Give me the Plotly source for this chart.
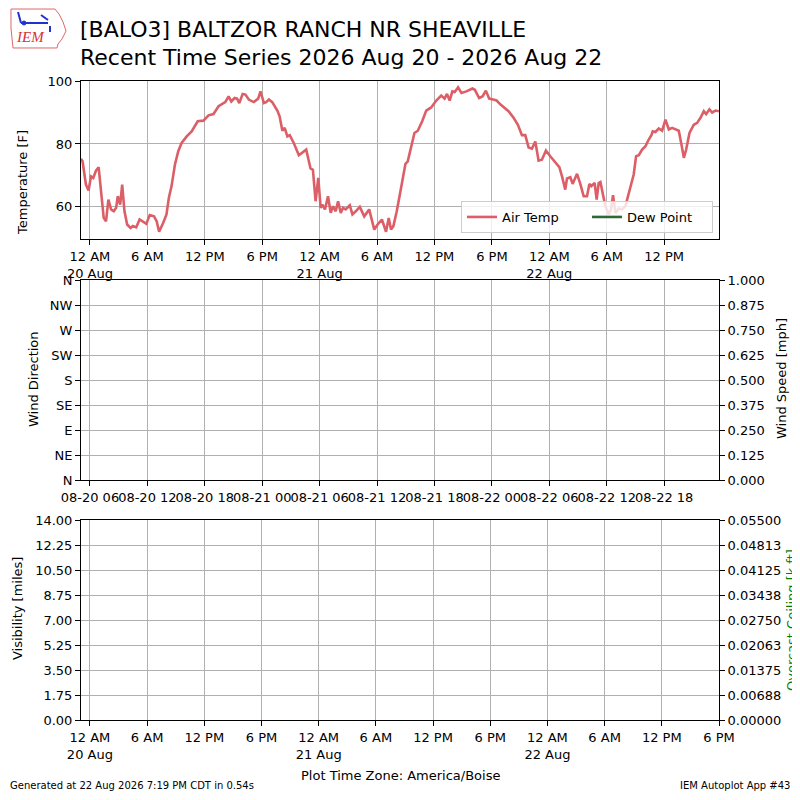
import pandas as pd
import plotly.graph_objects as go

title_1 = "[BALO3] BALTZOR RANCH NR SHEAVILLE"
title_2 = "Recent Time Series 2026 Aug 20 - 2026 Aug 22"

# observation times, hours after 2026-08-20 00:00 (America/Boise)
obs_hours = [
    -0.95, -0.77, -0.42, -0.14, 0.11, 0.35, 0.63, 0.91, 1.44, 1.68, 1.93, 2.21,
    2.49, 2.74, 2.91, 3.16, 3.37, 3.61, 3.89, 4.25, 4.49, 4.84, 5.19, 5.54,
    5.89, 6.25, 6.70, 6.98, 7.23, 7.65, 8.00, 8.25, 8.53, 8.88, 9.23, 9.58,
    10.11, 10.63, 11.26, 11.86, 12.39, 12.91, 13.44, 14.14, 14.49, 14.77, 15.12, 15.37,
    15.61, 15.96, 16.25, 16.60, 17.12, 17.58, 17.82, 18.18, 18.42, 18.70, 19.05, 19.58,
    19.82, 20.11, 20.35, 20.63, 20.88, 21.30, 21.83, 22.60, 23.05, 23.30, 23.58, 23.86,
    24.11, 24.28, 24.56, 24.88, 25.16, 25.40, 25.68, 25.93, 26.21, 26.45, 26.73, 27.15,
    27.43, 27.78, 28.20, 28.66, 29.18, 29.71, 30.06, 30.51, 30.94, 31.22, 31.46, 31.71,
    32.06, 32.51, 32.97, 33.21, 33.56, 33.91, 34.26, 34.72, 35.14, 35.66, 36.19, 36.71,
    37.06, 37.31, 37.59, 37.87, 38.12, 38.47, 38.82, 39.34, 39.97, 40.22, 40.67, 41.02,
    41.37, 41.72, 42.14, 42.49, 42.91, 43.37, 43.74, 44.27, 44.72, 45.14, 45.49, 45.84,
    46.19, 46.54, 46.88, 47.23, 47.65, 48.10, 48.63, 49.05, 49.33, 49.67, 49.85, 50.20,
    50.44, 50.90, 51.24, 51.59, 51.94, 52.19, 52.39, 52.74, 52.95, 53.16, 53.34, 53.58,
    53.86, 54.21, 54.45, 54.66, 54.91, 55.26, 55.60, 55.95, 56.48, 56.82, 57.07, 57.35,
    57.70, 58.05, 58.39, 58.67, 58.81, 59.09, 59.44, 59.79, 60.14, 60.49, 60.84, 61.18,
    61.53, 61.81, 62.06, 62.30, 62.65, 63.10, 63.45, 63.80, 64.15, 64.39, 64.74, 65.02,
    65.37, 65.72,
]
air_temp = [
    75.3, 74.5, 67.1, 65.2, 69.7, 69.2, 71.5, 72.6, 56.5, 55.4, 62.3, 59.2,
    58.6, 59.7, 63.4, 60.7, 67.1, 58.6, 54.4, 53.3, 53.9, 53.5, 56.0, 55.2,
    54.6, 57.4, 57.0, 55.4, 52.1, 54.9, 57.6, 62.9, 66.6, 73.4, 77.7, 80.3,
    82.4, 84.0, 87.2, 87.4, 89.1, 89.5, 92.0, 93.3, 95.1, 93.5, 94.6, 94.4,
    93.0, 95.9, 95.7, 94.1, 93.3, 94.4, 96.7, 93.0, 93.3, 94.1, 93.3, 90.6,
    88.8, 84.2, 85.1, 82.4, 82.8, 80.3, 76.4, 78.2, 72.2, 71.8, 61.8, 69.2,
    59.7, 60.7, 59.2, 63.4, 58.1, 60.2, 58.6, 61.8, 58.1, 59.7, 59.2, 60.5,
    57.6, 58.6, 60.0, 57.0, 59.2, 52.8, 54.4, 56.0, 52.1, 56.5, 52.8, 53.9,
    58.6, 66.0, 73.7, 74.5, 79.3, 83.5, 84.2, 87.2, 90.6, 91.6, 93.8, 95.4,
    94.4, 95.9, 93.8, 96.7, 96.5, 98.0, 96.2, 96.7, 97.6, 97.2, 94.6, 95.1,
    96.9, 94.4, 94.1, 93.8, 92.5, 91.4, 90.4, 88.3, 86.1, 82.8, 82.8, 78.9,
    78.5, 80.8, 74.7, 75.0, 77.9, 76.1, 74.0, 72.6, 69.7, 65.5, 69.0, 69.4,
    67.3, 70.5, 67.3, 63.4, 63.4, 67.3, 66.6, 67.6, 62.3, 67.6, 67.9, 64.4,
    60.2, 57.6, 59.2, 63.7, 58.1, 59.5, 59.2, 60.2, 66.0, 70.3, 76.1, 76.4,
    78.2, 79.3, 81.4, 82.8, 84.0, 83.8, 84.9, 84.2, 87.7, 84.6, 85.1, 84.6,
    84.2, 79.8, 75.6, 78.2, 83.5, 86.1, 86.7, 88.3, 90.4, 89.5, 91.0, 90.0,
    90.6, 90.4,
]

temp_ticks = [60, 80, 100]
dir_ticks = [0, 45, 90, 135, 180, 225, 270, 315, 360]
dir_labels = ["N", "NE", "E", "SE", "S", "SW", "W", "NW", "N"]
speed_ticks = [0, 0.125, 0.25, 0.375, 0.5, 0.625, 0.75, 0.875, 1.0]
vis_ticks = [0, 1.75, 3.5, 5.25, 7.0, 8.75, 10.5, 12.25, 14.0]
ceil_ticks = [0, 0.006875, 0.01375, 0.020625, 0.0275, 0.034375, 0.04125, 0.048125, 0.055]
ceil_labels = ["0.00000", "0.00688", "0.01375", "0.02063", "0.02750",
               "0.03438", "0.04125", "0.04813", "0.05500"]

base = pd.Timestamp("2026-08-20 00:00")
valid = base + pd.to_timedelta(obs_hours, unit="h")

t_start = pd.Timestamp("2026-08-19 23:04")
t_end_top = pd.Timestamp("2026-08-22 17:44")
t_end_bot = pd.Timestamp("2026-08-22 18:00")
utc_off = pd.Timedelta(hours=6)

local_ticks = pd.date_range("2026-08-20 00:00", "2026-08-22 18:00", freq="6h")
local_text = []
for t in local_ticks:
    lbl = t.strftime("%I %p").lstrip("0")
    if t.hour == 0:
        lbl += "<br>" + t.strftime("%d Aug").lstrip("0")
    local_text.append(lbl)
utc_ticks = local_ticks + utc_off
utc_text = [t.strftime("%m-%d %H") for t in utc_ticks]

# the page body keeps its 8px margin, so the figure is 784px and sits at (8, 8)
PAGE_MARGIN = 8
W = H = 800 - 2 * PAGE_MARGIN
FONT = "DejaVu Sans"


def px(x):
    return (x - PAGE_MARGIN) / W


def py(y):
    return 1 - (y - PAGE_MARGIN) / H


GRID = "#b0b0b0"
common = dict(showline=True, linecolor="black", linewidth=1, mirror=True,
              ticks="outside", ticklen=5, tickcolor="black", tickwidth=1,
              showgrid=True, gridcolor=GRID, gridwidth=1, zeroline=False,
              automargin=False,
              tickfont=dict(size=13, color="black", family=FONT))

fig = go.Figure()
fig.add_trace(go.Scatter(x=valid, y=air_temp, mode="lines", name="Air Temp",
                         line=dict(color="#dc5f68", width=2.6), xaxis="x", yaxis="y"))
fig.add_trace(go.Scatter(x=[None], y=[None], mode="lines", name="Dew Point",
                         line=dict(color="#2f6a34", width=2.6), xaxis="x", yaxis="y"))
# empty panels (no wind / visibility / ceiling reports)
for xa, ya in [("x2", "y2"), ("x2", "y3"), ("x3", "y4"), ("x3", "y5")]:
    fig.add_trace(go.Scatter(x=[None], y=[None], mode="lines", showlegend=False,
                             xaxis=xa, yaxis=ya, hoverinfo="skip"))

xdom = [px(81), px(719)]
fig.update_layout(
    template="none",
    width=W, height=H, autosize=False,
    margin=dict(l=0, r=0, t=0, b=0, pad=0, autoexpand=False),
    paper_bgcolor="white", plot_bgcolor="white",
    font=dict(family=FONT, size=13, color="black"),
    xaxis=dict(common, domain=xdom, anchor="y", type="date",
               range=[t_start, t_end_top], tickmode="array",
               tickvals=list(local_ticks), ticktext=local_text, tickangle=0),
    yaxis=dict(common, domain=[py(239), py(81)], anchor="x",
               range=[49.8, 100], tickvals=temp_ticks),
    xaxis2=dict(common, domain=xdom, anchor="y2", type="date",
                range=[t_start + utc_off, t_end_top + utc_off], tickmode="array",
                tickvals=list(utc_ticks), ticktext=utc_text, tickangle=0),
    yaxis2=dict(common, domain=[py(480), py(280)], anchor="x2",
                range=[0, 360], tickvals=dir_ticks, ticktext=dir_labels),
    yaxis3=dict(common, overlaying="y2", side="right", anchor="x2",
                range=[0, 1], tickvals=speed_ticks, tickformat=".3f",
                showgrid=False, mirror=False),
    xaxis3=dict(common, domain=xdom, anchor="y4", type="date",
                range=[t_start, t_end_bot], tickmode="array",
                tickvals=list(local_ticks), ticktext=local_text, tickangle=0),
    yaxis4=dict(common, domain=[py(720), py(520)], anchor="x3",
                range=[0, 14], tickvals=vis_ticks, tickformat=".2f"),
    yaxis5=dict(common, overlaying="y4", side="right", anchor="x3",
                range=[0, 0.055], tickvals=ceil_ticks, ticktext=ceil_labels,
                showgrid=False, mirror=False),
    legend=dict(orientation="h", x=px(713), y=py(233), xanchor="right", yanchor="bottom",
                bgcolor="rgba(255,255,255,0.8)", bordercolor="#cccccc", borderwidth=1,
                entrywidth=80, itemwidth=30,
                font=dict(size=13, family=FONT, color="black")),
)


def label(text, x, y, size=13, angle=0, anchor="center", color="black", family=FONT):
    fig.add_annotation(text=text, x=px(x), y=py(y), xref="paper", yref="paper",
                       showarrow=False, textangle=angle, xanchor=anchor, yanchor="middle",
                       font=dict(size=size, color=color, family=family))


label(title_1, 78, 30, size=22, anchor="left")
label(title_2, 78, 57, size=22, anchor="left")
label("Temperature [F]", 22, 183, angle=-90)
label("Wind Direction", 33, 379, angle=-90)
label("Wind Speed [mph]", 781, 379, angle=-90)
label("Visibility [miles]", 17, 609, angle=-90)
label("Overcast Ceiling [k ft]", 791, 620, angle=-90, color="green")
label("Plot Time Zone: America/Boise", 400, 775)
label("Generated at 22 Aug 2026 7:19 PM CDT in 0.54s", 8, 785, size=10, anchor="left")
label("IEM Autoplot App #43", 792, 785, size=10, anchor="right")

# small IEM logo drawn with shapes
outline = [(11, 9), (55, 9), (59, 14), (63, 22), (66, 31), (62, 39), (58, 44), (57, 48),
           (13, 48), (12, 38), (11, 28), (11, 18)]
path = "M " + " L ".join(f"{px(a):.4f},{py(b):.4f}" for a, b in outline) + " Z"
fig.add_shape(type="path", path=path, xref="paper", yref="paper",
              line=dict(color="#e06666", width=1))
blue = "#2233cc"
for (a1, b1), (a2, b2) in [((21, 23), (48, 23)), ((21, 23), (18, 12)),
                           ((41, 15), (48, 20)), ((50, 26), (50, 32))]:
    fig.add_shape(type="line", x0=px(a1), y0=py(b1), x1=px(a2), y1=py(b2),
                  xref="paper", yref="paper", line=dict(color=blue, width=2))
fig.add_shape(type="circle", x0=px(22), y0=py(21), x1=px(26), y1=py(25),
              xref="paper", yref="paper", fillcolor=blue, line=dict(color=blue, width=1))
label("<i>IEM</i>", 30, 37, size=15, color="#d63333", family="Liberation Serif")

fig.write_html("out.html")
